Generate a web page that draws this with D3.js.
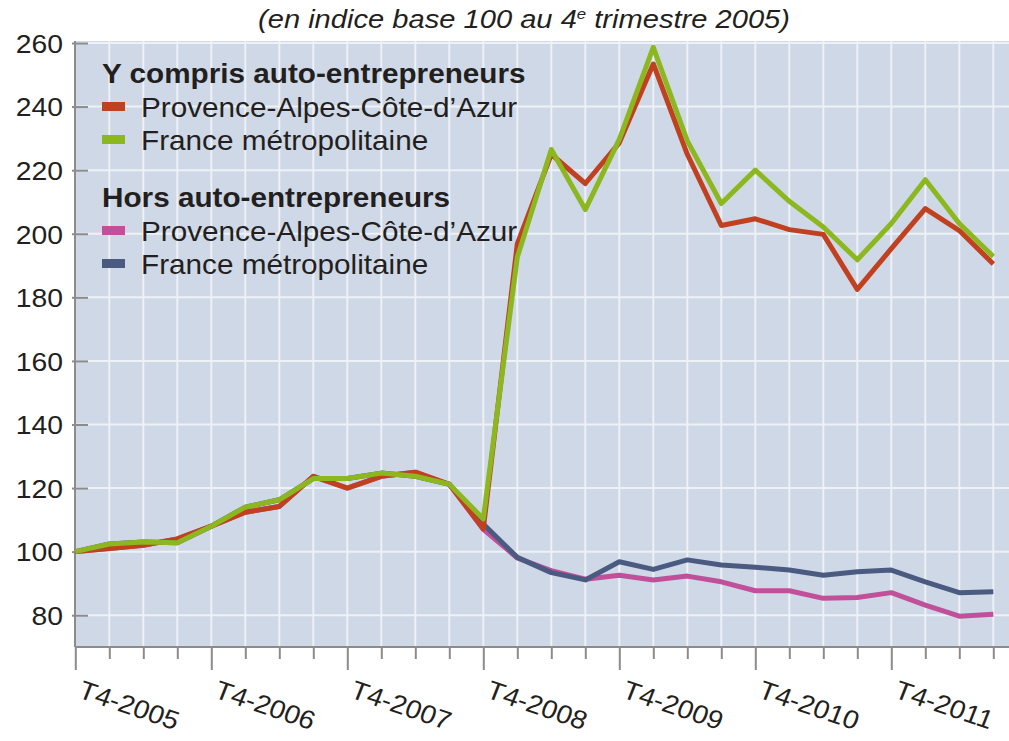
<!DOCTYPE html>
<html>
<head>
<meta charset="utf-8">
<script src="https://cdn.jsdelivr.net/npm/d3@7"></script>
<style>
  body { margin: 0; background: #fff; }
  svg { display: block; font-family: "Liberation Sans", Arial, sans-serif; }
  .axis-line { stroke: #8c8c8c; stroke-width: 2; }
  .tick-label { fill: #231f20; font-size: 26px; }
  .legend-title { font-weight: bold; fill: #231f20; font-size: 27px; }
  .legend-label { fill: #231f20; font-size: 27px; }
</style>
</head>
<body>
<svg id="chart"></svg>
<script>
// Quarters from T4-2005 to T3-2012
const quarters = [
  'T4-2005', 'T1-2006', 'T2-2006', 'T3-2006', 'T4-2006', 'T1-2007', 'T2-2007', 'T3-2007',
  'T4-2007', 'T1-2008', 'T2-2008', 'T3-2008', 'T4-2008', 'T1-2009', 'T2-2009', 'T3-2009',
  'T4-2009', 'T1-2010', 'T2-2010', 'T3-2010', 'T4-2010', 'T1-2011', 'T2-2011', 'T3-2011',
  'T4-2011', 'T1-2012', 'T2-2012', 'T3-2012'
];

// Y compris auto-entrepreneurs
const pacaAvec = [
  100, 101, 102, 104, 108, 112.4, 114.2, 123.7,
  120, 123.7, 125, 121.2, 107.2, 196.8, 225, 215.8,
  228.6, 253.4, 225, 202.6, 204.7, 201.3, 199.8, 182.5,
  195.3, 207.9, 201, 190.5
];
const franceAvec = [
  100, 102.4, 103, 102.8, 108, 114, 116.3, 123,
  123, 124.7, 123.7, 121.2, 110.3, 192.6, 226.5, 207.6,
  229.7, 258.6, 229.2, 209.5, 220, 210.2, 202.1, 191.8,
  203.2, 217, 203.2, 192.8
];

// Hors auto-entrepreneurs
const pacaHors = [
  100, 101, 102, 104, 108, 112.4, 114.2, 123.7,
  120, 123.7, 125, 121.2, 107, 98, 94, 91.3,
  92.6, 91.1, 92.3, 90.5, 87.7, 87.7, 85.3, 85.6,
  87.1, 83.2, 79.7, 80.3
];
const franceHors = [
  100, 102.4, 103, 102.8, 108, 114, 116.3, 123,
  123, 124.7, 123.7, 121.2, 108.7, 98.2, 93.4, 91.1,
  96.8, 94.4, 97.4, 95.8, 95.1, 94.2, 92.6, 93.7,
  94.2, 90.5, 87.1, 87.4
];

const yTicks = [80, 100, 120, 140, 160, 180, 200, 220, 240, 260];

const legendGroups = [
  { title: 'Y compris auto-entrepreneurs', items: [
    { name: 'Provence-Alpes-Côte-d\u2019Azur', color: '#c0401f' },
    { name: 'France métropolitaine', color: '#8cb71e' }
  ]},
  { title: 'Hors auto-entrepreneurs', items: [
    { name: 'Provence-Alpes-Côte-d\u2019Azur', color: '#c1509b' },
    { name: 'France métropolitaine', color: '#4b5a80' }
  ]}
];

// drawing order: hors first, then y compris on top
const series = [
  { values: pacaHors, color: '#c1509b' },
  { values: franceHors, color: '#4b5a80' },
  { values: pacaAvec, color: '#c0401f' },
  { values: franceAvec, color: '#8cb71e' }
];

const W = 1009, H = 741;
const plot = { left: 75, top: 41, right: 1009, bottom: 647 };

const svg = d3.select('#chart').attr('width', W).attr('height', H);

const x = d3.scaleLinear().domain([0, quarters.length - 1]).range([75.3, 993.3]);
const y = d3.scaleLinear().domain([70, 260]).range([plot.bottom, 43]);

// background
svg.append('rect')
    .attr('x', plot.left).attr('y', plot.top)
    .attr('width', plot.right - plot.left).attr('height', plot.bottom - plot.top)
    .attr('fill', '#ced8e6');

// gridlines
svg.append('g').selectAll('line')
    .data(d3.range(1, quarters.length))
  .join('line')
    .attr('x1', d => x(d)).attr('x2', d => x(d))
    .attr('y1', plot.top).attr('y2', plot.bottom)
    .attr('stroke', '#eef1f6').attr('stroke-width', 2);

svg.append('g').selectAll('line')
    .data(yTicks)
  .join('line')
    .attr('x1', plot.left).attr('x2', plot.right)
    .attr('y1', d => y(d)).attr('y2', d => y(d))
    .attr('stroke', '#eef1f6').attr('stroke-width', 2);

// subtitle
svg.append('text')
    .attr('transform', 'translate(524,28) scale(1.12,1)')
    .attr('text-anchor', 'middle')
    .attr('font-style', 'italic')
    .attr('font-size', '26px')
    .attr('fill', '#231f20')
    .call(t => {
      t.append('tspan').text('(en indice base 100 au 4');
      t.append('tspan').attr('dy', -9).attr('font-size', '15px').text('e');
      t.append('tspan').attr('dy', 9).text(' trimestre 2005)');
    });

// y axis
const yAxis = d3.axisLeft(y).tickValues(yTicks).tickSize(0).tickPadding(12);
const yAxisG = svg.append('g')
    .attr('transform', `translate(${plot.left},0)`)
    .call(yAxis)
    .call(g => g.select('.domain').remove());
yAxisG.selectAll('.tick text')
    .attr('class', 'tick-label')
    .attr('font-size', null)
    .attr('font-family', null)
    .attr('x', 0)
    .attr('transform', 'translate(-12,0) scale(1.09,1)')
    .attr('dy', '0.36em');
yAxisG.selectAll('.tick').append('line')
    .attr('x1', -3).attr('x2', 13)
    .attr('class', 'axis-line');
svg.append('line')
    .attr('class', 'axis-line')
    .attr('x1', plot.left).attr('x2', plot.left)
    .attr('y1', plot.top).attr('y2', plot.bottom);

// x axis
const xAxis = d3.axisBottom(x)
    .tickValues(d3.range(quarters.length))
    .tickSize(12)
    .tickFormat(() => '');
const xAxisG = svg.append('g')
    .attr('transform', `translate(0,${plot.bottom})`)
    .call(xAxis)
    .call(g => g.select('.domain').remove());
xAxisG.selectAll('.tick line')
    .attr('class', 'axis-line')
    .attr('y2', d => quarters[d].startsWith('T4') ? 23 : 12);
xAxisG.selectAll('.tick')
    .filter(d => quarters[d].startsWith('T4'))
    .append('text')
    .attr('class', 'tick-label')
    .attr('font-size', '28px')
    .attr('text-anchor', 'start')
    .attr('transform', 'translate(1,50) scale(1.08,1) rotate(20)')
    .text(d => quarters[d]);
svg.append('line')
    .attr('class', 'axis-line')
    .attr('x1', plot.left).attr('x2', plot.right)
    .attr('y1', plot.bottom).attr('y2', plot.bottom);

// lines
const line = d3.line()
    .x((d, i) => x(i))
    .y(d => y(d));

svg.append('g').selectAll('path')
    .data(series)
  .join('path')
    .attr('d', d => line(d.values))
    .attr('fill', 'none')
    .attr('stroke', d => d.color)
    .attr('stroke-width', 5)
    .attr('stroke-linejoin', 'round');

// legend
const groupTop = [83, 207];
legendGroups.forEach((grp, gi) => {
  const g = svg.append('g');
  g.append('text')
      .attr('class', 'legend-title')
      .attr('transform', `translate(102,${groupTop[gi]}) scale(1.1,1)`)
      .text(grp.title);
  grp.items.forEach((it, ii) => {
    const base = groupTop[gi] + 34 + ii * 33;
    g.append('rect')
        .attr('x', 102).attr('y', base - 15)
        .attr('width', 23).attr('height', 9)
        .attr('fill', it.color);
    g.append('text')
        .attr('class', 'legend-label')
        .attr('transform', `translate(141,${base}) scale(1.1,1)`)
        .text(it.name);
  });
});
</script>
</body>
</html>
